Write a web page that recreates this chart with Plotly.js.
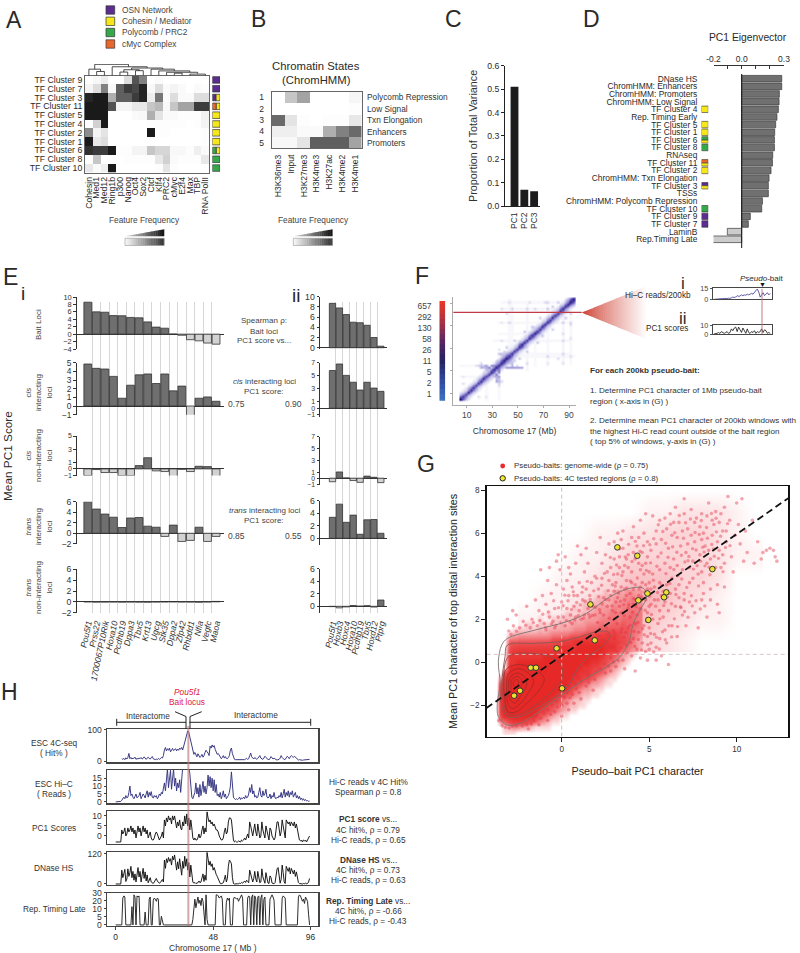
<!DOCTYPE html>
<html><head><meta charset="utf-8">
<script src="https://cdn.plot.ly/plotly-3.0.1.min.js"></script>
<style>html,body{margin:0;padding:0;background:#fff}#c{width:800px;height:953px}</style></head>
<body><div id="c"></div>
<script>
// ---------- data ----------
const tfRows=['TF Cluster 9','TF Cluster 7','TF Cluster 3','TF Cluster 11','TF Cluster 5','TF Cluster 4','TF Cluster 2','TF Cluster 1','TF Cluster 6','TF Cluster 8','TF Cluster 10'];
const tfCols=['Cohesin','Med1','Med12','Ring1b','p300','Nanog','Oct4','Sox2','Ctcf','Klf4','PRC2','cMyc','E2f4','Max','TBP','RNA PolII'];
const tfFreq=[
[0,.03,.08,0,0,.15,.75,.55,0,.02,0,0,0,0,0,0],
[.05,.15,.55,.03,.7,.85,.8,.95,.03,.15,.02,.05,.02,0,.02,.01],
[.95,1,1,.35,.7,.7,.85,.95,.08,.6,.02,.15,.02,.02,.15,.15],
[1,1,1,.75,.05,.05,.1,.1,.25,.3,.03,.25,.4,.4,.85,.85],
[1,1,1,0,0,0,.02,.03,.35,.12,.02,.02,.01,.01,.01,.06],
[0,.2,1,0,0,0,0,0,.01,.01,.01,.01,.01,0,.01,.05],
[.5,.05,.12,0,0,0,0,0,1,.01,.01,0,0,0,0,.01],
[1,.1,.15,0,0,0,0,0,.01,0,0,0,0,0,0,.01],
[.9,.85,.85,1,.01,.01,.05,.05,.25,.18,.18,.03,.03,.01,.07,.02],
[0,.25,0,0,0,.01,.01,.01,.01,.1,.2,.02,.01,.01,.01,.1],
[.1,.02,.07,1,0,0,0,0,0,.01,.12,.01,0,0,0,0]];
const dendroX=[1,1,2,2,null,0,0,1.5,1.5,null,.75,.75,5.1,5.1,null,3,3,7.5,7.5,null,4,4,5,5,null,6,6,7,7,null,4.5,4.5,6.5,6.5,null,5.5,5.5,9.5,9.5,null,8,8,11,11,null,9,9,13,13,null,10,10,14,14,null,11,11,12,12,null,13,13,15,15];
const dendroY=[0,.35,.35,0,null,0,.55,.55,.35,null,.55,.97,.97,.76,null,0,.76,.76,.65,null,0,.3,.3,0,null,0,.42,.42,0,null,.3,.5,.5,.42,null,.5,.65,.65,.55,null,0,.55,.55,.4,null,0,.4,.4,.28,null,0,.28,.28,.15,null,0,.2,.2,0,null,0,.12,.12,0];
const groupColors={OSN:'#5b2d8e',Cohesin:'#f6e71d',Polycomb:'#37a84a',cMyc:'#e8672a'};
const groupNames={OSN:'OSN Network',Cohesin:'Cohesin / Mediator',Polycomb:'Polycomb / PRC2',cMyc:'cMyc Complex'};
const clusterGroups={'TF Cluster 9':['OSN'],'TF Cluster 7':['OSN'],'TF Cluster 3':['OSN','Cohesin'],'TF Cluster 11':['cMyc','Cohesin'],'TF Cluster 5':['Cohesin'],'TF Cluster 4':['Cohesin'],'TF Cluster 2':['Cohesin'],'TF Cluster 1':['Cohesin'],'TF Cluster 6':['Polycomb','Cohesin'],'TF Cluster 8':['Polycomb'],'TF Cluster 10':['Polycomb']};

const hmmRows=['1','2','3','4','5'];
const hmmStates=['Polycomb Repression','Low Signal','Txn Elongation','Enhancers','Promoters'];
const hmmCols=['H3K36me3','Input','H3K27me3','H3K4me3','H3K27ac','H3K4me2','H3K4me1'];
const hmmFreq=[[0,.25,.4,0,0,0,.04],[0,0,0,0,0,0,.01],[.65,.12,.01,0,.01,.01,.1],[.07,.07,.02,.02,.35,.55,.65],[.03,.03,.12,.7,.7,.7,.4]];

const pcNames=['PC1','PC2','PC3'];
const pcVariance=[.51,.07,.063];

const eigenLabels=['DNase HS','ChromHMM: Enhancers','ChromHMM: Promoters','ChromHMM: Low Signal','TF Cluster 4','Rep. Timing Early','TF Cluster 5','TF Cluster 1','TF Cluster 6','TF Cluster 8','RNAseq','TF Cluster 11','TF Cluster 2','ChromHMM: Txn Elongation','TF Cluster 3','TSSs','ChromHMM: Polycomb Repression','TF Cluster 10','TF Cluster 9','TF Cluster 7','LaminB','Rep.Timing Late'];
const eigenValues=[.284,.284,.267,.265,.26,.25,.241,.234,.232,.232,.22,.218,.208,.194,.189,.189,.147,.142,.061,.047,-.102,-.208];

const genesI=['Pou5f1','Prss22','1700067P10Rik','Hoxa10','Pcdhb19','Dppa3','Tbx5','Krt13','Ugcg','Stk35','Dppa2','Zfp42','Rhbdd1','Nfia','Vegfc','Maoa'];
const baitI=[8.6,6,5.9,5,4.95,4.5,4.4,3.3,1.9,1.6,.03,-.3,-1.5,-1.8,-2.4,-2.7];
const cisInI=[4.85,4.35,4.27,3.42,.9,2.4,3.6,3.7,2.6,3.7,1.75,2.3,-1.2,.9,1.05,.55];
const cisNonI=[-1,-.1,-.55,-.55,-1,-1,.5,1.7,-.3,-.4,-2.3,-.05,-.4,.4,.35,-2.1];
const transInI=[6,4.6,3.65,3.05,1.1,2.9,3,1.35,1.15,-.6,1.55,-1.55,-1.35,1.15,-1.55,-.6];
const transNonI=[.02,-.05,-.03,-.02,-.05,-.03,-.05,-.06,-.03,0,.02,-.02,-.03,-.06,-.02,.08];
const genesII=['Pou5f1','Hoxb3','Hoxc4','Hoxa10','Pcdhb19','Tbx5','Hoxd12','Ptprg'];
const baitII=[8.7,7.8,6.5,5,4.9,4.4,2,.3];
const cisInII=[5.8,6.8,5.05,4,2.8,4,3.1,2.6];
const cisNonII=[-.6,1.05,.05,-.4,-.7,.35,.15,-.75];
const transInII=[3.35,5.45,2.55,3.7,.65,2.95,3,.8];
const transNonII=[-.05,-.25,-.1,.12,.03,.1,-.12,1];

const hicDiag=[0,0,.98,.66,.64,.78,.74,.7,.66,.7,.74,.76,.66,.7,.76,.8,.82,.76,.8,.86,.9,.76,.74,.7,.7,.76,.8,.74,.7,.76,.76,.82,.74,.7,.76,.74,.76,.7,.74,.7,.7,.76,.76,.74,.78,.86,.9,.5];
const hicNear1=[0,0,.5,.4,.36,.38,.42,.36,.35,.38,.38,.4,.35,.38,.42,.46,.48,.46,.48,.54,.52,.4,.36,.36,.38,.46,.42,.38,.36,.4,.42,.46,.38,.37,.4,.38,.42,.36,.38,.37,.38,.42,.42,.46,.5,.54,.52,0];
const hicNear2=[0,0,.2,.17,.16,.18,.19,.16,.15,.17,.17,.18,.16,.17,.18,.24,.27,.24,.27,.32,.26,.18,.17,.16,.17,.24,.18,.17,.16,.18,.2,.24,.17,.16,.18,.17,.19,.16,.18,.17,.18,.24,.2,.24,.28,.26,0,0];
const hicNear3=[0,0,.1,.08,.08,.08,.09,.07,.07,.08,.08,.08,.07,.08,.09,.12,.16,.14,.16,.18,.12,.09,.08,.07,.08,.12,.09,.08,.07,.09,.1,.12,.08,.08,.09,.08,.09,.07,.09,.08,.09,.12,.09,.12,.14,0,0,0];
const hicBlobs=[[24,34,.46],[22,34,.42],[20,32,.3],[26,32,.44],[28,34,.38],[30,34,.42],[20,34,.22],[18,34,.16],[16,34,.12],[28,30,.28],[24,30,.24],[22,28,.14],[30,26,.2],[32,24,.26],[34,24,.34],[32,22,.24],[34,22,.2],[36,20,.14],[34,44,.24],[38,46,.16],[36,44,.22],[34,48,.12],[36,56,.14],[22,22,.14],[16,12,.16],[10,14,.14],[6,18,.12],[6,24,.09],[40,50,.2],[46,56,.2],[54,64,.22],[60,68,.2],[72,84,.2],[76,86,.2],[80,90,.18],[42,72,.16],[44,84,.16],[40,80,.14],[56,84,.16],[62,84,.14],[70,90,.14],[42,90,.12],[58,90,.12],[36,84,.12],[36,72,.1],[72,90,.16],[66,76,.18]];
const hicStripes=[[34,4,32,.03],[56,30,90,.035],[72,34,90,.03],[84,36,88,.04],[42,50,92,.03],[24,4,30,.025],[90,36,88,.03],[62,34,60,.025],[44,40,90,.025]];
const hicLine=[[40,33,.32],[42,33,.36],[44,33,.34],[46,33,.36],[48,33,.32],[50,33,.34],[52,33,.3]];
const colorbarLevels=[0,5,10,15,20,25,30,35,40,45,50,55,60,65,70,75,80,85,90,95,100];
const colorbarTicks=[95,84,73,62,51,40,29,18,7];
const colorbarLabels=['657','292','130','58','26','11','5','2','1'];
const baitReads=[0,0,.3,.5,.4,.8,1,1.2,.8,1,1.5,1.2,2,3,2.5,3,5,4,4.5,6,5,6,5.5,7,6,7,8,7,9,12,14,10,3,6,9,5,7,9,6,8];
const baitPC1=[.5,.5,1,2,1,3,2,1,2,3,1,2,6,4,7,8,3,8,5,2,7,4,1,6,2,1,3,2,4,1,3,2,3,6,2,5,4,1,2,1];

const testedX=[3.18,4.32,8.61,5.98,5.85,4.9,4.38,1.64,4.95,1.89,-.29,-1.77,-1.47,.02,-2.38,-2.72];
const testedY=[5.34,4.95,4.33,3.25,3.02,3.2,2.88,2.69,1.97,1.02,.65,-.25,-.25,-1.21,-1.32,-1.55];
const fitX=[-4.3,13];
const fitY=[-2.12,7.65];
const densityXStart=-4, densityYTop=3.25, densityStep=.25;
const densityRows=[
'00000000000000000000000000101212212',
'00000000000000000000000011112122322',
'00000000000000000000011112112223322',
'00000000000000000001011122223233333',
'00000000000001000110111222233333433',
'00000000000100111112122223334344433',
'00000000110111112122223334344454443',
'00000111111212222223334445555555433',
'00002333333333444455566677777655432',
'00005555555555667778888888877665421',
'00006777777777778888999999888654321',
'00007888888888889999999999877543210',
'00008888888899999999999998765432100',
'00008899999999999999999887654321000',
'00009999999999999999988776543210000',
'00069999999999999999888765432100000',
'00389999999999999998877543211000000',
'00789999999999999988654332110000000',
'00889999999999999875433211000000000',
'00899999999999987654322110000000000',
'00899999999999875432211000000000000',
'00899999999987654322110000000000000',
'00899999999876543211000000000000000',
'00799999998654321100000000000000000',
'00457888765432110000000000000000000',
'00023443321111000000000000000000000',
'00011100000000000000000000000000000'];
const hazeX=[-2,-1,0,1,2,3,4,5,6,7,8,9,10,11];
const hazeY=[8,7,6,5,4,3,2,1];
const hazeZ=[[0,0,0,0,0,0,0,0,0,0,0,0,0,0],[0,0,0,0,0,0,0,1,1,2,2,2,1,0],[0,0,0,0,1,1,2,2,3,3,3,2,1,0],[0,0,0,1,1,2,3,3,3,3,3,2,1,1],[0,0,1,1,2,3,4,4,4,3,3,2,0,0],[0,1,1,2,3,4,5,5,4,3,2,1,0,0],[1,1,2,3,4,5,5,4,3,2,1,1,0,0],[2,3,4,5,5,5,4,3,2,1,0,0,0,0]];
const contourOuterX=[-3.62,-3.43,-3.1,-1.52,.29,1.43,2.76,3.9,4.67,4.86,4.48,4.1,3.81,3.33,2.57,1.24,-.1,-1.43,-2.38,-3.14,-3.62,-3.68,-3.52,-3.62];
const contourOuterY=[.03,.8,1.11,1.5,1.89,2.28,3.05,3.44,3.44,3.05,2.43,1.81,.88,.26,-.2,-.82,-1.59,-2.37,-2.83,-2.91,-2.52,-1.9,-.98,.03];
const contourMidX=[-3.1,-1.62,-.1,1.05,2,2.67,2.76,2.29,1.43,.86,.48,-.1,-1.24,-2.38,-3.1,-3.43,-3.43,-3.24,-3.1];
const contourMidY=[.8,.88,.96,1.19,1.42,1.42,1.19,.73,.19,-.36,-.98,-1.44,-2.06,-2.52,-2.52,-2.06,-.98,.26,.8];
const contourThirdX=[-3.05,-1.81,-.48,0,0,-.67,-1.62,-2.57,-3.1,-3.33,-3.33,-3.05];
const contourThirdY=[.26,.42,.19,-.2,-.82,-1.44,-2.06,-2.45,-2.37,-1.76,-.82,.26];
const contourInnerX=[-3.2,-2.5,-1.6,-1,-1.3,-2,-2.6,-3.05,-3.25,-3.3,-3.2,null,-3.05,-2.5,-1.9,-1.6,-1.9,-2.4,-2.85,-3.1,-3.15,-3.05,null,-2.95,-2.55,-2.15,-2,-2.3,-2.7,-2.95,-3.05,-2.95,null,-2.85,-2.55,-2.3,-2.3,-2.6,-2.85,-2.9,-2.85,null,-2.75,-2.55,-2.45,-2.6,-2.75,-2.75];
const contourInnerY=[-.35,-.1,-.3,-.75,-1.3,-1.9,-2.3,-2.3,-1.7,-.9,-.35,null,-.55,-.3,-.5,-.9,-1.4,-1.95,-2.15,-1.8,-1.1,-.55,null,-.7,-.5,-.65,-1,-1.5,-1.9,-1.7,-1.2,-.7,null,-.8,-.65,-.8,-1.1,-1.45,-1.4,-1.1,-.8,null,-.9,-.8,-.95,-1.15,-1.1,-.9];
const cloud=[[5.2,4.1],[5.6,3.7],[5.1,5.2],[5.4,6.1],[5.9,4.6],[6.1,5.3],[6.3,3.9],[6.4,4.8],[6.6,5.8],[6.7,6.5],[6.9,4.3],[7.1,5.1],[7.2,6.2],[7.3,3.7],[7.5,4.7],[7.6,5.6],[7.7,6.7],[7.9,5],[8,4.2],[8.1,6],[8.2,5.4],[8.3,6.8],[8.5,4.8],[8.6,5.9],[8.7,6.4],[8.9,3.6],[9,5.2],[9.1,4.4],[9.2,6.1],[9.3,7.2],[9.4,5.6],[9.5,7.7],[9.6,6.6],[9.7,4.9],[9.9,5.9],[10,7.4],[10.1,6.4],[10.3,7.6],
[5.3,2.9],[5.5,4.9],[5.7,5.7],[5.8,3.3],[6,6.2],[6.2,4.4],[6.5,3.4],[6.8,5.4],[7,3.2],[7,6.9],[7.4,5.9],[7.8,4.1],[7.9,6.3],[8.4,5.2],[8.8,4.4],[9.2,5],[5.4,5.5],[5.9,6.7],[6.3,5.9],[6.6,4.5],[6.9,6.1],[7.3,4.4],[7.6,6.5],[8,5.7],[8.3,4.6],[8.6,6.6],[9,6.5],[9.4,6.1],[5.6,4.3],[6,3.6],[6.4,6.5],[6.7,3.6],[7.2,5.5],[7.5,3.9],[8.1,3.7],[8.5,3.4],[8.9,5.6],[9.3,4.6],[6.2,6.9],[7.4,7.1],[8,6.9],[8.4,7.4],[8.8,7],[9.1,6.9],[5.6,6.6],[6.5,7.2],[7,7.6],
[10.6,5.1],[10.9,6.6],[11.2,5.6],[11.4,4.8],[11.7,5.2],[11.9,5.3],[12.2,4.9],[12.3,4.7],[11,4.6],[10.4,4.7],[10.2,5.5],[10.5,6.1],[11.5,5.1],[12.1,5.2],[9.8,4.2],
[1.6,3.1],[1.8,2.6],[1.9,4],[2.1,3.4],[2.2,2.3],[2.3,4.6],[2.4,3],[2.5,5],[2.6,2.6],[2.7,3.8],[2.8,4.4],[2.9,2.4],[3,3.3],[3,5.6],[3.1,2.8],[3.2,4.1],[3.3,4.9],[3.4,2.3],[3.4,3.5],[3.5,5.3],[3.6,2.9],[3.6,4.5],[3.7,3.8],[3.8,2.5],[3.8,5],[3.9,3.2],[4,4.2],[4,5.8],[4.1,2.7],[4.2,3.6],[4.2,4.8],[4.3,5.4],[4.4,3.1],[4.5,4.3],[4.5,2.5],[4.6,3.7],[4.6,5.1],[4.7,6],[4.8,2.9],[4.8,4.6],[4.9,3.4],[4.9,5.6],[5,2.6],[5,4.2],[5.1,3.4],[1.7,3.7],[2,5.1],[2.3,3.9],[2.6,4.2],[2.8,3.1],[3.1,3.7],[3.3,2.6],[3.5,4.2],[3.7,4.8],[3.9,2.1],[4.1,3.4],[4.3,2.2],[4.5,3.5],[4.7,4.1],[4.9,2.3],[5.1,2.7],[2.4,2.2],[2.7,2.9],[3,4.8],[3.2,3],[3.4,5.7],[3.6,3.4],[3.8,4.4],[4,3.7],[4.2,2.9],[4.4,4.6],[4.6,4.5],[4.8,3.6],[5,3.7],[2.9,3.6],[3.3,4.4],[3.7,3.1],[4.1,5.1],[4.4,5.8],[4.9,4.9],[5.3,3.5],[5.5,2.9],[5.7,3.1],[5.9,2.8],[3.5,6.1],[4.1,6.3],[4.5,6.6],[3.2,6],[2.7,5.5],[2.2,5.8],[4.8,6.9],[5.2,6.8],
[-1.7,2],[-2.4,1.6],[-2.9,1.3],[-2.2,1.9],[-3.1,2],[-1.3,2.4],[-1,1.8],[-.9,2.7],[-.7,2.1],[-.6,3.2],[-.5,1.9],[-.4,2.5],[-.3,3.6],[-.2,2.1],[-.1,4.3],[0,2.8],[.1,3.4],[.1,2.1],[.2,4.9],[.3,2.5],[.4,3.1],[.5,2.2],[.5,4.1],[.6,3.5],[.7,2.6],[.8,2.1],[.8,4.6],[.9,3.1],[1,3.7],[1,2.4],[1.1,5],[1.2,2.9],[1.3,4.2],[1.3,2.2],[1.4,3.4],[1.5,2.5],[1.5,4.6],[-1.5,2.9],[-1.1,3.1],[-.8,3.8],[-.3,4.7],[.3,3.8],[.7,3.1],[1.2,3.5],[1.4,5.3],[.9,5.4],[.4,4.4],[-2,2.6],[-2.6,2.2],[-1.8,1.6],[-1.4,1.7],[-.9,1.5],[-.4,1.6],[.2,1.7],[.6,1.8],[1.1,2],[1.6,2.1],[1.9,2.2],[-.2,5],[-.7,4.4],[-1.2,4.3],
[2.3,.4],[2.6,.9],[2.8,.2],[3,1.1],[3.2,.5],[3.4,1.4],[3.5,.1],[3.7,.8],[3.8,1.6],[4,.3],[4.1,1.1],[4.2,1.8],[4.3,.6],[4.4,1.4],[4.5,.2],[4.6,.9],[4.7,1.7],[4.8,.5],[4.9,1.2],[5,.6],[5,1.6],[5.1,.9],[5.2,2],[5.3,1.3],[5.4,.7],[5.5,1.8],[5.6,1.1],[5.7,.3],[5.8,2.1],[5.9,1.5],[6,.9],[6.1,2.4],[6.3,1.7],[6.5,2.6],[6.6,1.2],[6.9,2.2],[7.1,1.7],[7.3,2.8],[7.6,2.3],[7.8,1.6],[8,2.9],[8.3,2.1],[8.5,2.9],[8.9,2.7],[9,2.3],[8.1,3.2],[9.3,3.5],[7,2.9],[6.7,3],[6.2,3.2],[5.6,2.4],[4.9,.1],[6.1,-.1],[5.4,.1],[3.1,-.2],[3.6,-.3],[4.2,-.4],[2.8,-.4],
[.4,-.9],[.8,-1],[1.1,-.9],[1.5,-.6],[1.9,-.8],[2.2,-.3],[2.5,-.5],[.3,-1.4],[.6,-1.5],[1,-1.4],[1.4,-1.1],[1.8,-1.3],[-.3,-1.8],[0,-2],[.3,-1.9],[.7,-1.9],[1.1,-1.7],[-.8,-2.2],[-.4,-2.3],[0,-2.5],[.4,-2.2],[-1.2,-2.6],[-.8,-2.7],[-1.6,-2.7],[-2,-2.9],[-2.6,-2.95],[-3,-3.05],[-3.4,-2.95],[-1.9,-3.1],[-1.3,-2.9],[-3.6,-2.7],[-2.8,2.4]];
const cloudExtra=[[2.05,1.85],[2.31,2.72],[2.55,1.62],[2.72,2.05],[2.94,1.48],[3.08,2.31],[3.17,1.79],[3.36,2.84],[3.42,1.55],[3.58,2.17],[3.66,1.38],[3.83,2.66],[3.91,1.72],[4.06,2.33],[4.14,1.44],[4.27,2.58],[4.36,1.86],[4.52,2.94],[4.63,1.56],[4.77,2.42],[4.86,1.9],[5.02,3.07],[5.13,2.22],[5.24,3.81],[5.37,2.61],[5.48,3.24],[5.61,2.02],[5.72,3.58],[5.83,2.64],[5.96,4.12],[6.04,3.03],[6.18,3.66],[6.27,2.72],[6.41,4.31],[6.53,3.15],[6.64,4.02],[6.78,2.58],[6.86,3.87],[7.04,4.66],[7.15,3.48],[7.27,4.92],[7.41,3.09],[7.53,4.33],[7.68,5.22],[7.82,3.55],[7.94,4.7],[8.06,5.35],[8.19,4.48],[8.33,5.76],[8.47,4.07],[8.58,5.47],[8.72,4.93],[8.84,6.06],[8.96,4.83],[9.08,5.86],[9.22,4.21],[9.36,5.33],[9.48,6.44],[9.62,5.42],[5.08,4.62],[5.26,5.74],[5.44,4.46],[5.52,6.39],[5.68,5.08],[5.78,6.08],[5.94,5.53],[6.08,4.88],[6.22,6.41],[6.34,5.37],[6.46,6.02],[6.58,5.11],[6.72,6.82],[6.84,4.97],[6.96,5.76],[7.08,6.48],[7.22,4.72],[7.36,6.66],[7.48,5.28],[7.62,6.03],[7.74,4.49],[7.86,5.94],[7.98,6.59],[8.14,5.12],[8.28,6.26],[8.42,4.42],[8.56,6.91],[8.68,5.27],[8.82,6.69],[2.12,3.05],[2.28,3.58],[2.44,4.13],[2.52,2.91],[2.66,3.33],[2.78,4.87],[2.88,2.62],[2.97,4.08],[3.06,3.54],[3.14,4.52],[3.24,3.22],[3.32,5.27],[3.44,4.03],[3.53,2.68],[3.63,4.9],[3.72,3.45],[3.82,5.48],[3.92,3.78],[4.02,4.68],[4.12,2.96],[4.21,5.62],[4.32,3.92],[4.41,3.41],[4.48,5.16],[4.58,3.04],[4.68,5.42],[4.74,3.26],[4.84,4.27],[4.94,3.14],[5.04,5.46],[-.92,1.62],[-.76,2.34],[-.58,1.78],[-.46,2.86],[-.33,1.71],[-.18,2.54],[-.04,1.84],[.08,2.63],[.18,3.12],[.26,1.94],[.36,2.86],[.47,1.88],[.56,2.45],[.66,3.28],[.74,1.96],[.86,2.78],[.95,2.17],[1.06,2.66],[1.16,3.25],[1.24,2.05],[1.34,2.84],[1.46,3.76],[1.54,2.24],[1.63,2.92],[1.74,2.18],[1.83,3.32],[1.94,2.56],[2,3.9],[2.17,2.44],[-1.62,1.85],[-1.25,1.94],[-1.08,2.23],[-2.05,1.72],[-2.58,1.44],[-2.76,1.7],[-3.02,1.46],[2.15,1.24],[2.38,1.03],[2.62,1.31],[2.84,.76],[3.04,1.36],[3.22,.94],[3.38,.66],[3.56,1.18],[3.74,.42],[3.94,.92],[4.18,.74],[4.38,1.06],[4.56,.58],[4.72,1.28],[4.92,.82],[5.08,1.34],[5.26,.48],[5.42,1.16],[5.58,.62],[5.76,1.42],[5.92,1.05],[6.12,1.7],[6.28,1.18],[6.44,2.02],[6.62,1.66],[6.82,2.54],[7.02,2.36],[7.22,2.09],[7.46,2.62],[7.68,2.86],[7.92,2.48],[8.18,2.62],[2.44,-.08],[2.68,-.18],[2.96,.02],[3.24,.08],[1.72,-.24],[2.02,-.42],[1.24,-.42],[1.54,-.96],[.94,-.72],[.62,-.66],[.18,-1.12],[.46,-1.18],[.84,-1.24],[-.12,-1.58],[.14,-1.62],[.48,-1.65],[-.56,-1.98],[-.24,-2.08],[-1.02,-2.36],[-.62,-2.42],[-1.44,-2.48],[-1.74,-2.86],[-2.24,-2.96],[-3.22,-3.02],[-2.82,-2.98]];

const mb=[]; for(let i=0;i<192;i++) mb.push(i/2);
const hit4C=[null,null,null,null,null,null,8,6,9,5,11,7,12,25,8,12,7,10,9,13,
6,9,7,10,8,12,7,9,14,8,6,10,13,9,7,11,15,8,6,5,
7,5,9,6,8,12,10,18,36,44,33,40,35,42,30,38,41,34,36,40,
33,39,35,42,38,44,36,48,62,75,88,97,92,78,60,42,30,22,28,20,
14,24,18,12,16,22,13,18,28,35,30,26,18,48,42,52,45,50,38,27,
22,25,20,14,8,12,18,10,15,9,8,12,18,36,42,24,10,6,5,5,
5,4,4,5,4,5,6,5,7,9,6,8,18,26,14,10,7,12,8,6,
9,14,18,10,7,6,10,16,12,7,6,5,8,15,11,7,10,6,5,4,
5,6,10,18,12,7,5,6,11,16,13,8,14,18,15,12,16,13,7,5,
4,5,4,4,3,4,4,5,4,6,5,6];
const hicReads=[0,0,0,.1,.2,.3,1,2.5,3,2,4,2.5,3,6,10,4,5,3,2,3.5,
5,2.5,3,4,6,2,3.5,5,4,2.5,5,7,3,6,4,6.5,3,2.5,4,3,
4,2,3,5,4,6,5,9,12,7,15,21,9,16,20,8,13,21,10,15,
7,12,9,14,6,16,22,24,26,24,25,23,22,18,8,3,2,4,6,12,
5,9,3,11,4,8,13,6,10,5,9,17,10,16,9,15,7,14,6,11,
4,5,3,6,2,4,7,3,5,2,3,4,6,10,19,7,3,2,1.5,2,
1.5,2,3,1.5,2.5,2,3,2,4,2.5,3,5,9,6,11,5,7,3,4,2.5,
3,6,9,4,3,7,4,5,8,3,2.5,3,5,2,4,3,6,2.5,2,3,
2.5,4,3,6,2.5,5,8,3,6,4,7,3,6,4.5,7,3,5,6,2.5,4,
2,3.5,1.5,2.5,1,2,.8,1.5,.6,.8,.4,.5];
const pc1Track=[-3,-3,-3,-3,-3,-3,3,1,2,4,0,1,4,2,3,5,2,4,1,3,
-1,3,5,2,4,0,3,5,2,4,1,3,-1,1,2,-1,-2,-2,-1,1,
2,1,-1,-2,-1,0,2,-1,8,5,9,7,10,8,9,6,10,8,10,7,
4,7,5,8,4,3,7,5,10,6,11,5,9,3,8,4,-1,-2,-1,-2,
-2,-1,1,-1,0,3,5,1,4,2,12,9,7,8,6,7,5,6,4,3,
3,2,0,-1,-2,-2,-1,2,4,1,2,7,9,9,8,3,-2,-3,-2.5,-3,
-3,-2.5,-3,-3,-2,-2.5,-2,-1,-2,0,1,-1,7,5,2,0,3,6,2,0,
6,3,-1,0,7,3,1,-1,5,2,-1,-2,4,3,0,-1,-2,-1,4,7,
7,3,0,2,8,5,1,-1,8,7,6,7,5,7,6,5,7,4,6,3,
1,-2,-2.5,-2,-3,-2,-2.5,-2,-3,-2,-1,0];
const dnaseTrack=[0,0,0,0,0,0,55,25,40,58,10,20,60,30,45,70,25,50,15,40,
8,42,65,28,50,8,35,62,22,48,12,36,5,15,25,8,3,2,8,15,
22,12,5,3,6,10,18,8,95,62,100,85,105,90,100,75,110,95,115,85,
55,88,60,100,50,35,90,62,110,70,100,55,85,28,75,35,8,3,6,2,
3,5,12,5,8,25,40,10,35,15,125,100,75,90,70,80,55,65,45,38,
30,18,5,2,1,2,5,18,35,8,22,70,95,90,80,25,2,0,1,0,
1,0,4,2,6,3,8,12,6,15,10,5,55,40,18,8,22,50,20,8,
50,25,5,8,60,28,10,3,45,18,4,2,32,25,4,2,1,5,30,60,
65,25,3,18,75,45,8,2,70,60,50,65,40,62,50,40,55,30,48,22,
6,2,1,3,0,2,1,4,0,2,8,22];
const repLate=[0,0,0,0,0,0,0,25,27,26,0,0,0,0,0,0,17,0,28,26,
0,27,26,27,0,0,0,0,0,12,0,0,0,24,26,0,0,23,25,24,
22,25,24,0,0,8,3,0,0,0,0,0,0,0,0,0,0,0,0,0,
0,0,0,0,0,0,0,0,0,0,0,0,0,0,0,0,5,18,24,16,
22,26,20,23,18,25,22,8,0,28,5,0,0,0,0,0,0,0,0,28,
28,27,25,26,27,24,0,0,0,21,25,23,25,0,0,0,24,26,25,24,
25,22,24,27,28,25,0,0,0,0,25,27,26,0,26,28,0,27,24,0,
26,27,0,25,28,0,24,26,0,0,0,0,24,27,28,26,23,0,0,0,
0,0,0,0,25,27,26,25,0,0,0,0,0,0,0,0,0,0,0,0,
26,28,27,25,22,24,20,26,24,22,10,0];

// ---------- helpers ----------
const W=800,H=953,FONT='"Liberation Sans",Arial,sans-serif',INK='#2a2a2a';
const layout={width:W,height:H,margin:{l:0,r:0,t:0,b:0},paper_bgcolor:'#fff',plot_bgcolor:'rgba(0,0,0,0)',showlegend:false,barmode:'overlay',
 font:{family:FONT,size:8.5,color:INK},annotations:[],shapes:[]};
const traces=[]; let axN=0;
const baseAxis={showgrid:false,zeroline:false,showline:false,ticks:'',automargin:false,fixedrange:true,tickfont:{size:8.5,color:INK,family:FONT}};
function axes(x0,x1,y0,y1,xo,yo){axN++;const s=axN===1?'':axN;
 layout['xaxis'+s]=Object.assign({},baseAxis,{domain:[x0/W,x1/W],anchor:'y'+s},xo||{});
 layout['yaxis'+s]=Object.assign({},baseAxis,{domain:[1-y1/H,1-y0/H],anchor:'x'+s},yo||{});
 return {xaxis:'x'+s,yaxis:'y'+s};}
function T(x,y,t,o){o=o||{};layout.annotations.push({xref:'paper',yref:'paper',x:x/W,y:1-y/H,text:t,showarrow:false,xanchor:o.a||'center',yanchor:'middle',align:o.al||'center',textangle:o.r||0,borderpad:0,font:{size:o.s||8.5,color:o.c||INK,family:FONT}});}
function P(x){return x/W} function Q(y){return 1-y/H}
function L(x0,y0,x1,y1,c,w,d){layout.shapes.push({type:'line',xref:'paper',yref:'paper',x0:P(x0),y0:Q(y0),x1:P(x1),y1:Q(y1),line:{color:c,width:w||1,dash:d||'solid'}});}
function poly(pts,c){layout.shapes.push({type:'path',xref:'paper',yref:'paper',path:'M'+pts.map(p=>P(p[0])+','+Q(p[1])).join('L')+'Z',fillcolor:c,line:{color:'rgba(0,0,0,0)',width:0}});}
function R(x0,y0,x1,y1,c,lc,lw){layout.shapes.push({type:'rect',xref:'paper',yref:'paper',x0:P(x0),y0:Q(y0),x1:P(x1),y1:Q(y1),fillcolor:c,line:{color:lc||'rgba(0,0,0,0)',width:lw||0}});}
function C(x,y,r,c,lc,lw){layout.shapes.push({type:'circle',xref:'paper',yref:'paper',x0:P(x-r),y0:Q(y-r),x1:P(x+r),y1:Q(y+r),fillcolor:c,line:{color:lc||c,width:lw||0}});}
function grey(f){const v=Math.round(245-f*222);return 'rgb('+v+','+v+','+v+')';}
function freqKey(x0,x1){const n=18,dx=(x1-x0)/n;
 for(let k=0;k<n;k++){const a=x0+k*dx,b=a+dx+.3;
  poly([[a,236.2],[a,236.2-6.9*k/n],[b,236.2-6.9*(k+1)/n],[b,236.2]],grey(.15+.85*k/(n-1)));
  R(a,238.3,b,245.5,grey(k/(n-1)*.85));}
 layout.shapes.push({type:'rect',xref:'paper',yref:'paper',x0:P(x0),y0:Q(238.3),x1:P(x1),y1:Q(245.5),line:{color:'#999',width:.6},fillcolor:'rgba(0,0,0,0)'});
}
const greyScale=[[0,'#ffffff'],[1,'#1a1a1a']];
const boxLine={showline:true,mirror:true,linecolor:'#666',linewidth:1};
for(const [t,x,y] of [['A',14,20],['B',258,19],['C',453,19],['D',591,19],['E',10,277],['F',422,276],['G',426,464],['H',9,692]]) T(x,y,t,{s:23});

// ---------- A ----------
Object.keys(groupNames).forEach((g,i)=>{const y=[10,21.3,32.5,44][i];
 R(106,y-4.2,114.7,y+4.2,groupColors[g],'#333',.7); T(121,y,groupNames[g],{a:'left',s:8.3,c:'#444'});});
let a=axes(85,209.3,75.5,172.5,{tickmode:'linear',tick0:0,dtick:1,tickangle:-90,...boxLine,tickfont:{size:8.7,color:INK,family:FONT}},{tickmode:'linear',tick0:0,dtick:1,autorange:'reversed',...boxLine,tickfont:{size:8.7,color:INK,family:FONT}});
traces.push({type:'heatmap',x:tfCols,y:tfRows,z:tfFreq,zmin:0,zmax:1,colorscale:greyScale,showscale:false,...a});
a=axes(85,209.3,64,75.5,{range:[-.5,15.5],showticklabels:false},{range:[0,1],showticklabels:false});
traces.push({type:'scatter',mode:'lines',x:dendroX,y:dendroY,line:{color:'#222',width:.8},...a});
a=axes(212.3,220,75.5,172.5,{range:[0,1],showticklabels:false},{range:[10.5,-.5],showticklabels:false});
Object.keys(groupColors).forEach(g=>{const ys=[],bs=[],ws=[];tfRows.forEach((r,i)=>{const gs=clusterGroups[r],k=gs.indexOf(g);if(k>=0){ys.push(i);bs.push(k/gs.length);ws.push(1/gs.length);}});
 traces.push({type:'bar',orientation:'h',y:ys,x:ws,base:bs,width:.74,marker:{color:groupColors[g],line:{color:'#333',width:.7}},...a});});
T(144,220,'Feature Frequency',{s:8.3,c:'#444'}); freqKey(125,164);

// ---------- B ----------
T(316,66,'Chromatin States',{s:11.3}); T(316,79.5,'(ChromHMM)',{s:11.3});
a=axes(271.7,361.7,91.7,148.3,{tickmode:'linear',tick0:0,dtick:1,tickangle:-90,...boxLine,ticks:'outside',ticklen:2,tickcolor:'rgba(0,0,0,0)'},{tickmode:'array',tickvals:hmmRows.map(r=>'s'+r),ticktext:hmmRows,autorange:'reversed',...boxLine,ticks:'outside',ticklen:5,tickcolor:'rgba(0,0,0,0)'});
traces.push({type:'heatmap',x:hmmCols,y:hmmRows.map(r=>'s'+r),z:hmmFreq,zmin:0,zmax:1,colorscale:greyScale,showscale:false,...a});
hmmStates.forEach((s,i)=>T(366,97.3+i*11.4,s,{a:'left',s:8.3,c:'#333'}));
T(313,220,'Feature Frequency',{s:8.3,c:'#444'}); freqKey(293.3,332.3);

// ---------- C ----------
a=axes(505,540,65.7,206,{range:[-.97,2.6],tickmode:'array',tickvals:pcNames,tickangle:-90,showline:true,linecolor:'#222',type:'category',ticks:'outside',ticklen:2,tickcolor:'rgba(0,0,0,0)'},
 {range:[0,.6],tickvals:[0,.1,.2,.3,.4,.5,.6],tickformat:'.1f',showline:true,linecolor:'#222',ticks:'outside',ticklen:3,tickcolor:'#222',tickfont:{size:8.7,color:INK,family:FONT},title:{text:'Proportion of Total Variance',font:{size:10.8,color:'#333',family:FONT},standoff:7}});
traces.push({type:'bar',x:pcNames,y:pcVariance,width:.8,marker:{color:'#1c1c1c'},...a});

// ---------- D ----------
T(748,38,'PC1 Eigenvector',{s:10.3});
const eigenRange=[21+(248-239.3)/7.65,-(78.7-66)/7.65];
a=axes(713.5,784,66,248,{range:[-.2,.3],side:'top',tickvals:[-.2,-.1,0,.1,.2,.3],ticktext:['-0.2','','0.0','','','0.3'],showline:true,linecolor:'#333',ticks:'inside',ticklen:3,tickcolor:'#333'},{range:eigenRange,showticklabels:false});
traces.push({type:'bar',orientation:'h',y:eigenLabels.map((l,i)=>i),x:eigenValues,width:.86,cliponaxis:false,
 marker:{color:eigenValues.map(v=>v>=0?'#707070':'#cccccc'),line:{color:'#3a3a3a',width:.7}},...a});
L(741.7,74,741.7,248,'#111',1);
a=axes(701.5,708.3,66,248,{range:[0,1],showticklabels:false},{range:eigenRange,tickvals:eigenLabels.map((l,i)=>i),ticktext:eigenLabels,ticks:'outside',ticklen:1.5,tickcolor:'rgba(0,0,0,0)',tickfont:{size:8.4,color:INK,family:FONT}});
Object.keys(groupColors).forEach(g=>{const ys=[],wd=[];eigenLabels.forEach((r,i)=>{const gs=clusterGroups[r];if(!gs)return;const k=gs.indexOf(g);if(k>=0){ys.push(gs.length===1?i:i-.21+.42*k);wd.push(.84/gs.length);}});
 traces.push({type:'bar',orientation:'h',y:ys,x:ys.map(()=>1),width:wd,marker:{color:groupColors[g],line:{color:'#333',width:.6}},...a});});

// ---------- E ----------
T(23,293,'i',{s:19}); T(296,295,'ii',{s:19});
T(8,456,'Mean PC1 Score',{r:-90,s:11.8});
const eTick={showline:true,linecolor:'#333',ticks:'outside',ticklen:2.5,tickcolor:'#333',zeroline:true,zerolinecolor:'#333',zerolinewidth:1};
function gridBack(x0,x1,range,n){const vals=[];for(let i=0;i<n-1;i++)vals.push(i+.5);
 const p=axes(x0,x1,302,613,{range:range,tickvals:vals,showticklabels:false,showgrid:true,gridcolor:'#d6d6d6',gridwidth:1},{range:[0,1],showticklabels:false});
 traces.push({type:'scatter',mode:'none',x:[range[0]],y:[0],...p});}
function barRow(genes,vals,x0,x1,xr,y0,y1,yr,tv,fs,labels){
 const xo={range:xr,type:'category',categoryorder:'array',categoryarray:genes,showticklabels:false};
 if(labels){xo.showticklabels=true;xo.tickmode='array';xo.tickvals=genes;xo.ticktext=genes.map(g=>'<i>'+g+'</i>');xo.tickangle=-78;xo.ticks='outside';xo.ticklen=1;xo.tickcolor='rgba(0,0,0,0)';xo.tickfont={size:8.6,color:'#333',family:FONT};}
 const p=axes(x0,x1,y0,y1,xo,Object.assign({range:yr,tickvals:tv,tickfont:{size:fs,color:'#333',family:FONT}},eTick));
 traces.push({type:'bar',x:genes,y:vals,width:.92,cliponaxis:false,marker:{color:vals.map(v=>v>=0?'#6f6f6f':'#d2d2d2'),line:{color:'#333',width:.8}},...p});}
const xrI=[(76.7-87.8)/8.55,(224-87.8)/8.55], xrII=[(320-332.5)/6.9,(386.7-332.5)/6.9];
gridBack(76.7,224,xrI,16); gridBack(320,386.7,xrII,8);
barRow(genesI,baitI,76.7,224,xrI,297,349,[-4,10],[-4,-2,0,2,4,6,8,10],7.4);
barRow(genesI,cisInI,76.7,224,xrI,362.7,414.7,[-1,5],[-1,0,1,2,3,4,5],8.4);
barRow(genesI,cisNonI,76.7,224,xrI,436,475.5,[-1,5],[-1,0,1,3,5],7);
barRow(genesI,transInI,76.7,224,xrI,501.7,543.8,[-2,6],[-2,0,2,4,6],8.7);
barRow(genesI,transNonI,76.7,224,xrI,569.3,612.7,[-2,6],[-2,0,2,4,6],8.7,true);
barRow(genesII,baitII,320,386.7,xrII,296.7,349,[-.25,10],[0,2,4,6,8,10],8.7);
barRow(genesII,cisInII,320,386.7,xrII,362.7,416.7,[-1.3,7],[-1,0,1,3,5,7],7);
barRow(genesII,cisNonII,320,386.7,xrII,436.7,484.7,[-1.1,7],[-1,0,1,3,5,7],6.8);
barRow(genesII,transInII,320,386.7,xrII,500.7,545,[-1.07,6],[0,2,4,6],8.7);
barRow(genesII,transNonII,320,386.7,xrII,568.7,613,[-1.07,6],[0,2,4,6],8.7,true);
const rowLab=(x,y,t)=>T(x,y,t,{r:-90,s:8,c:'#444'});
rowLab(38,325,'Bait Loci');
rowLab(39,393,'<i>cis</i><br>interacting<br>loci');
rowLab(39,456,'<i>cis</i><br>non-interacting<br>loci');
rowLab(39,527,'<i>trans</i><br>interacting<br>loci');
rowLab(39,588,'<i>trans</i><br>non-interacting<br>loci');
const midC={s:8,c:'#444'};
T(264,320.7,'Spearman ρ:',midC);T(264,331,'Bait loci',midC);T(264,341,'PC1 score vs...',midC);
T(264,381,'<i>cis</i> interacting loci',midC);T(264,391,'PC1 score:',midC);T(236,404,'0.75',{s:8.5,c:'#444'});T(293,404,'0.90',{s:8.5,c:'#444'});
T(264,510,'<i>trans</i> interacting loci',midC);T(264,520,'PC1 score:',midC);T(236,536,'0.85',{s:8.5,c:'#444'});T(293,536,'0.55',{s:8.5,c:'#444'});

// ---------- F ----------
const hicN=hicDiag.length, hicZ=[]; for(let i=0;i<hicN;i++){hicZ.push(new Array(hicN).fill(0));}
const bin=m=>Math.min(hicN-1,Math.floor(m/2));
hicStripes.forEach(s=>{for(let m=s[1];m<=s[2];m+=2){hicZ[bin(s[0])][bin(m)]=Math.max(hicZ[bin(s[0])][bin(m)],s[3]);hicZ[bin(m)][bin(s[0])]=Math.max(hicZ[bin(m)][bin(s[0])],s[3]);}});
hicBlobs.forEach(b=>{hicZ[bin(b[1])][bin(b[0])]=b[2];hicZ[bin(b[0])][bin(b[1])]=b[2];});
hicLine.forEach(b=>{hicZ[bin(b[1])][bin(b[0])]=b[2];});
[hicDiag,hicNear1,hicNear2,hicNear3].forEach((arr,d)=>arr.forEach((v,i)=>{if(i+d<hicN){hicZ[i][i+d]=Math.max(hicZ[i][i+d],v);hicZ[i+d][i]=Math.max(hicZ[i+d][i],v);}}));
const hicBins=hicDiag.map((v,i)=>2*i+1);
const hicAxis={range:[-.5,95.2],showline:true,linecolor:'#aaa',ticks:'outside',ticklen:2,tickcolor:'#aaa'};
a=axes(453.3,575.7,297.3,405,Object.assign({},hicAxis,{tickvals:[10,30,50,70,90],tickfont:{size:8.5,color:'#444',family:FONT},title:{text:'Chromosome 17 (Mb)',font:{size:8.6,color:'#333',family:FONT},standoff:8}}),Object.assign({},hicAxis,{tickvals:[10,30,50,70,90],showticklabels:false}));
traces.push({type:'heatmap',x:hicBins,y:hicBins,z:hicZ,zmin:0,zmax:1,zsmooth:'best',showscale:false,colorscale:[[0,'#ffffff'],[.06,'#eeeef8'],[.2,'#c8c6ea'],[.4,'#8e86cf'],[.65,'#4d41a8'],[.85,'#2f2588'],[1,'#171045']],...a});
a=axes(439.3,445.3,301,400.7,{range:[-.5,.5],showticklabels:false},{range:[0,100],tickvals:colorbarTicks,ticktext:colorbarLabels,ticks:'outside',ticklen:5,tickcolor:'rgba(0,0,0,0)',tickfont:{size:8.5,color:'#444',family:FONT}});
traces.push({type:'heatmap',x:[0],y:colorbarLevels,z:colorbarLevels.map(v=>[v]),zmin:0,zmax:100,showscale:false,colorscale:[[0,'#3c74c4'],[.22,'#2f479c'],[.42,'#26205e'],[.6,'#5a2660'],[.78,'#a53044'],[1,'#ea3526']],...a});
L(453.3,312.3,581.7,312.3,'#c23a48',1.2);
for(let k=0,n=34;k<n;k++){const xa=581.7+(648-581.7)*k/n,xb=581.7+(648-581.7)*(k+1)/n+.7,ha=27*k/n,hb=27*(k+1)/n+.2,t=Math.pow(k/(n-1),.8);
 poly([[xa,312.6-ha],[xb,312.6-hb],[xb,312.6+hb],[xa,312.6+ha]],'rgb('+Math.round(205+50*t)+','+Math.round(62+193*t)+','+Math.round(48+207*t)+')');}
T(683,283,'i',{s:17});T(683,318,'ii',{s:17});
T(658,295,'Hi–C reads/200kb',{s:8.2});T(667,329,'PC1 scores',{s:8.2});
T(761.7,278,'<i>Pseudo</i>-bait',{s:8});T(762,285,'▼',{s:7,c:'#111'});
const trackBox={showline:true,mirror:true,linecolor:'#333',linewidth:.9};
const smallPos=baitReads.map((v,i)=>i);
a=axes(712.7,771.7,288.3,299.3,{range:[-1,40],showticklabels:false,...trackBox},{range:[0,15],tickvals:[0,15],...trackBox,tickfont:{size:7.2,color:'#444',family:FONT},ticks:'outside',ticklen:2,tickcolor:'#555'});
traces.push({type:'scatter',mode:'lines',x:smallPos,y:baitReads,line:{color:'#35358f',width:.8},...a});
a=axes(712.7,771.7,325.3,334.3,{range:[-1,40],showticklabels:false,...trackBox},{range:[0,10],tickvals:[0,10],...trackBox,tickfont:{size:7.2,color:'#444',family:FONT},ticks:'outside',ticklen:2,tickcolor:'#555'});
traces.push({type:'scatter',mode:'lines',x:smallPos,y:baitPC1,line:{color:'#111',width:.8},...a});
L(762,289,762,334,'rgba(190,110,110,.75)',1.2);
const nT={a:'left',s:8.1,c:'#333'};
T(589,371,'<b>For each 200kb pseudo-bait:</b>',nT);
T(589,390.7,'1. Determine PC1 character of 1Mb pseudo-bait',nT);T(589,401,'region ( x-axis in (G) )',nT);
T(589,420.7,'2. Determine mean PC1 character of 200kb windows with',nT);T(589,431,'the highest Hi-C read count outside of the bait region',nT);T(589,441,'( top 5% of windows, y-axis in (G) )',nT);

// ---------- G ----------
C(502.7,466,2.4,'#ea2a2f');T(512.7,466,'Pseudo-baits: genome-wide (ρ = 0.75)',{a:'left',s:7.9,c:'#333'});
C(502.7,478.3,2.7,'#f4e92a','#222',1);T(512.7,478.3,'Pseudo-baits: 4C tested regions (ρ = 0.8)',{a:'left',s:7.9,c:'#333'});
const gBox={showline:true,mirror:true,linecolor:'#111',linewidth:1.5,ticks:'outside',ticklen:4,tickcolor:'#222',tickfont:{size:8.2,color:'#333',family:FONT}};
a=axes(486.7,788.3,486,736.7,Object.assign({},gBox,{range:[-4.286,12.95],tickvals:[0,5,10],title:{text:'Pseudo–bait PC1 character',font:{size:10.8,color:'#222',family:FONT},standoff:14}}),
 Object.assign({},gBox,{range:[-3.455,8.19],tickvals:[-2,0,2,4,6,8],tickangle:0,title:{text:'Mean PC1 character of top distal interaction sites',font:{size:10.8,color:'#222',family:FONT},standoff:10}}));
traces.push({type:'heatmap',x:hazeX,y:hazeY,z:hazeZ,zmin:0,zmax:5,zsmooth:'best',showscale:false,colorscale:[[0,'rgba(240,90,100,0)'],[1,'rgba(238,70,80,.4)']],...a});
const densityZ=densityRows.map(r=>r.padEnd(35,'0').split('').map(Number));
traces.push({type:'heatmap',x:densityZ[0].map((v,i)=>densityXStart+i*densityStep),y:densityZ.map((r,i)=>densityYTop-i*densityStep),z:densityZ,zmin:0,zmax:9,zsmooth:'best',showscale:false,
 colorscale:[[0,'rgba(235,55,60,0)'],[.12,'rgba(236,70,75,.22)'],[.33,'rgba(235,60,65,.5)'],[.6,'rgba(233,50,52,.82)'],[1,'rgba(230,40,38,1)']],...a});
traces.push({type:'scatter',mode:'markers',x:cloud.map(p=>p[0]),y:cloud.map(p=>p[1]),marker:{size:3.6,color:'#e33045',opacity:.42,line:{width:0}},...a});
traces.push({type:'scatter',mode:'markers',x:cloudExtra.map(p=>p[0]),y:cloudExtra.map(p=>p[1]),marker:{size:3.4,color:'#e33045',opacity:.42,line:{width:0}},...a});
traces.push({type:'scatter',mode:'lines',x:[0,0],y:[-3.455,8.19],line:{color:'#c9c3c3',width:1,dash:'4px,3px'},...a});
traces.push({type:'scatter',mode:'lines',x:[-4.286,12.95],y:[.37,.37],line:{color:'#d8c6c6',width:1,dash:'4px,3px'},...a});
traces.push({type:'scatter',mode:'lines',x:contourOuterX,y:contourOuterY,line:{color:'#7d7272',width:.9,shape:'spline'},...a});
traces.push({type:'scatter',mode:'lines',x:contourMidX,y:contourMidY,line:{color:'#8a5a58',width:.9,shape:'spline'},...a});
traces.push({type:'scatter',mode:'lines',x:contourThirdX,y:contourThirdY,line:{color:'#964b48',width:.9,shape:'spline'},...a});
traces.push({type:'scatter',mode:'lines',x:contourInnerX,y:contourInnerY,connectgaps:false,line:{color:'#a52c2a',width:.9,shape:'spline'},...a});
traces.push({type:'scatter',mode:'lines',x:fitX,y:fitY,line:{color:'#111',width:1.8,dash:'7px,4px'},...a});
traces.push({type:'scatter',mode:'markers',x:testedX,y:testedY,marker:{size:5.6,color:'#ecdf2e',line:{color:'#333',width:1}},cliponaxis:false,...a});

// ---------- H ----------
const hBox={showline:true,mirror:true,linecolor:'#444',linewidth:1.2};
const hX=[-4.14,99.8];
const hY={ticks:'outside',ticklen:2.5,tickcolor:'#444',tickfont:{size:8.6,color:'#333',family:FONT}};
function track(vals,y0,y1,yr,tv,tt,color,lastOne){
 const xo=Object.assign({range:hX},hBox,lastOne?{tickvals:[0,48,96],ticks:'outside',ticklen:3,tickcolor:'#444',title:{text:'Chromosome 17 ( Mb )',font:{size:8.5,color:'#333',family:FONT},standoff:5}}:{showticklabels:false});
 const yo=Object.assign({range:yr,tickvals:tv},hBox,hY); if(tt)yo.ticktext=tt;
 const p=axes(107.3,318.3,y0,y1,xo,yo);
 traces.push({type:'scatter',mode:'lines',x:mb,y:vals,connectgaps:false,line:{color:color,width:.95},...p});
 return p;}
track(hit4C,729.3,762.3,[-3.4,102],[0,100],null,'#33337f');
track(hicReads,770,803.3,[-.9,20.2],[0,5,10,15],null,'#33337f');
track(pc1Track,810.7,844,[-4,12.6],[0,5,10],null,'#111');
track(dnaseTrack,851.7,885,[-4,128],[0,120],null,'#111');
track(repLate,892.7,926,[-1,30],[0,7.5,15,22.5,30],['0','5','10','20','30'],'#222',true);
const bandX=P(115.7+35.8*2.03);
layout.shapes.push({type:'line',xref:'paper',yref:'paper',x0:bandX,x1:bandX,y0:Q(726),y1:Q(926),line:{color:'rgba(185,120,125,.65)',width:2}});
T(187,691.7,'<i>Pou5f1</i>',{s:8.3,c:'#e0203c'});T(187,701.7,'Bait locus',{s:8.3,c:'#e0203c'});
T(148,715.7,'Interactome',{s:8.3,c:'#333'});T(255.7,715,'Interactome',{s:8.3,c:'#333'});
L(116.7,722.3,186,722.3,'#222',1);L(116.7,718.8,116.7,725.8,'#222',1);
L(189.3,722.3,310.7,722.3,'#222',1);L(310.7,718.8,310.7,725.8,'#222',1);
L(175,711.7,186,716.5,'#222',1);L(201.7,711.7,190,716.5,'#222',1);L(186,716.5,186,729,'#222',1);L(190,716.5,190,729,'#222',1);
const hL={s:8.3,c:'#333'};
T(54,743,'ESC 4C-seq',hL);T(54,753,'( Hit% )',hL);T(54,783.7,'ESC Hi–C',hL);T(54,793.7,'( Reads )',hL);
T(54,827.7,'PC1 Scores',hL);T(54,868,'DNase HS',hL);T(54,909,'Rep. Timing Late',hL);
T(368,782,'Hi-C reads v 4C Hit%',hL);T(368,792.3,'Spearman ρ = 0.8',hL);
T(368,819.3,'<b>PC1 score</b> vs...',hL);T(368,829.5,'4C hit%, ρ = 0.79',hL);T(368,839.5,'Hi-C reads, ρ = 0.65',hL);
T(368,860,'<b>DNase HS</b> vs...',hL);T(368,870,'4C hit%, ρ = 0.73',hL);T(368,880,'Hi-C reads, ρ = 0.63',hL);
T(368,901,'<b>Rep. Timing Late</b> vs...',hL);T(368,911,'4C hit%, ρ = -0.66',hL);T(368,921,'Hi-C reads, ρ = -0.43',hL);

Plotly.newPlot('c',traces,layout,{staticPlot:true,displayModeBar:false});
</script></body></html>
